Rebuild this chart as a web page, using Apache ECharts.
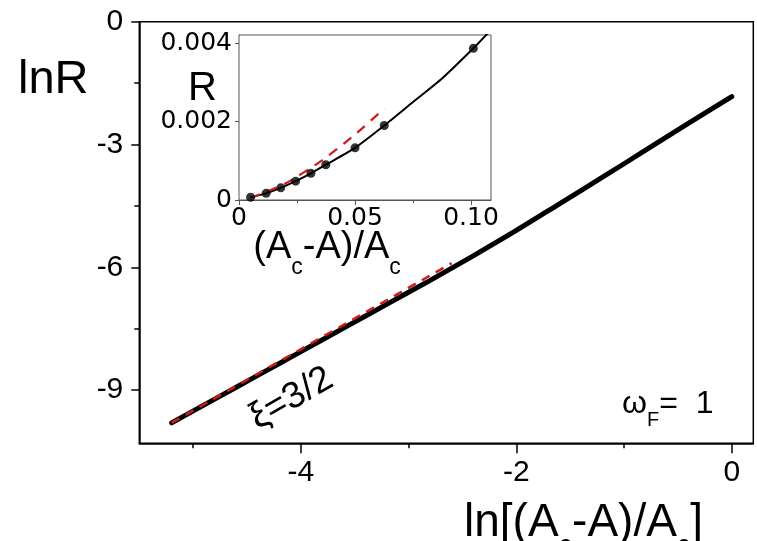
<!DOCTYPE html>
<html>
<head>
<meta charset="utf-8">
<script src="https://cdn.jsdelivr.net/npm/echarts@6/dist/echarts.min.js"></script>
<style>
html,body{margin:0;padding:0;background:#fff;}
#chart{width:757px;height:541px;}
</style>
</head>
<body>
<div id="chart"></div>
<script>
// ---- main plot data: ln[(Ac-A)/Ac] vs lnR ----
var mainX = [-5.2, -4.8, -4.4, -4.0, -3.6, -3.2, -2.8, -2.4, -2.0, -1.6, -1.2, -0.8, -0.4, 0.0];
var mainY = [-9.8, -9.22, -8.64, -8.06, -7.48, -6.9, -6.32, -5.72, -5.1, -4.45, -3.8, -3.14, -2.48, -1.83];
// red dashed power-law fit (slope 3/2)
var fitX = [-5.2, -2.6];
var fitY = [-9.8, -5.9];
var mainXMajor = [-4, -2, 0];
var mainXMinor = [-5, -3, -1];
var mainYMajor = [0, -3, -6, -9];
var mainYMinor = [-1.5, -4.5, -7.5];

// ---- inset data: (Ac-A)/Ac vs R ----
var insetPtsX = [0.005, 0.0117, 0.018, 0.0244, 0.031, 0.0374, 0.05, 0.0626, 0.101];
var insetPtsY = [0.00007, 0.00017, 0.00031, 0.00048, 0.00068, 0.0009, 0.00133, 0.0019, 0.00387];
var insetCurveX = [0.005, 0.0117, 0.018, 0.0244, 0.031, 0.0374, 0.05, 0.0626, 0.075, 0.0875, 0.101, 0.1086];
var insetCurveY = [0.00007, 0.00017, 0.00031, 0.00048, 0.00068, 0.0009, 0.00133, 0.0019, 0.0025, 0.0031, 0.00387, 0.00434];
var insetFitX = [0.005, 0.02, 0.035, 0.05, 0.0627];
var insetFitY = [0.00005, 0.00042, 0.00098, 0.00167, 0.00234];
var insetXMajor = [0, 0.05, 0.1];
var insetXMinor = [0.025, 0.075];
var insetYMajor = [0, 0.002, 0.004];
var insetYMinor = [0.001, 0.003];

function pairs(xs, ys) { return xs.map(function (x, i) { return [x, ys[i]]; }); }

var chart = echarts.init(document.getElementById('chart'), null, {renderer: 'canvas'});
var AR = 'Arial, "Liberation Sans", sans-serif';
var DV = '"DejaVu Sans", sans-serif';

function sub(F, S) {
  var P = 0.85 * F - 0.24 * S;
  return {
    m: {fontSize: F, lineHeight: F, fontFamily: AR, color: '#000', verticalAlign: 'top'},
    s: {fontSize: S, lineHeight: S, fontFamily: AR, color: '#000', verticalAlign: 'top', padding: [P, 0, 0, 0]}
  };
}

var option = {
  backgroundColor: '#fff',
  animation: false,
  grid: [
    {left: 139.3, right: 3.7, top: 21.7, bottom: 97.7, show: true, borderColor: '#000', borderWidth: 1.5, backgroundColor: 'transparent', z: 0},
    {left: 239, right: 266, top: 35, bottom: 341, show: true, borderColor: '#555', borderWidth: 1, backgroundColor: '#fff', z: 5}
  ],
  xAxis: [
    {gridIndex: 0, type: 'value', position: 'bottom', min: -5.5, max: 0.2,
     axisLine: {show: true, onZero: false, lineStyle: {color: '#000', width: 1.5}},
     axisTick: {show: true, length: 10, customValues: mainXMajor, lineStyle: {color: '#000', width: 1.5}},
     axisLabel: {show: true, customValues: mainXMajor, margin: 14, fontSize: 30, fontFamily: AR, color: '#000'},
     splitLine: {show: false}},
    {gridIndex: 0, type: 'value', position: 'bottom', min: -5.5, max: 0.2,
     axisLine: {show: false, onZero: false},
     axisTick: {show: true, length: 5, customValues: mainXMinor, lineStyle: {color: '#000', width: 1.5}},
     axisLabel: {show: false}, splitLine: {show: false}},
    {gridIndex: 1, type: 'value', position: 'bottom', min: 0, max: 0.1086,
     axisLine: {show: true, onZero: false, lineStyle: {color: '#555', width: 1}},
     axisTick: {show: true, length: 5, customValues: insetXMajor, lineStyle: {color: '#555', width: 1}},
     axisLabel: {show: true, customValues: insetXMajor, margin: 6, fontSize: 25, fontFamily: DV, color: '#000',
       formatter: function (v) { return v === 0 ? '0' : (Math.abs(v - 0.1) < 1e-9 ? '0.10' : '0.05'); }},
     splitLine: {show: false}},
    {gridIndex: 1, type: 'value', position: 'bottom', min: 0, max: 0.1086,
     axisLine: {show: false, onZero: false},
     axisTick: {show: true, length: 3, customValues: insetXMinor, lineStyle: {color: '#555', width: 1}},
     axisLabel: {show: false}, splitLine: {show: false}}
  ],
  yAxis: [
    {gridIndex: 0, type: 'value', position: 'left', min: -10.3, max: 0,
     axisLine: {show: true, onZero: false, lineStyle: {color: '#000', width: 1.5}},
     axisTick: {show: true, length: 8, customValues: mainYMajor, lineStyle: {color: '#000', width: 1.5}},
     axisLabel: {show: true, customValues: mainYMajor, margin: 16, fontSize: 30, fontFamily: AR, color: '#000'},
     splitLine: {show: false}},
    {gridIndex: 0, type: 'value', position: 'left', min: -10.3, max: 0,
     axisLine: {show: false, onZero: false},
     axisTick: {show: true, length: 5, customValues: mainYMinor, lineStyle: {color: '#000', width: 1.5}},
     axisLabel: {show: false}, splitLine: {show: false}},
    {gridIndex: 1, type: 'value', position: 'left', min: 0, max: 0.00421,
     axisLine: {show: true, onZero: false, lineStyle: {color: '#555', width: 1}},
     axisTick: {show: true, length: 4, customValues: insetYMajor, lineStyle: {color: '#555', width: 1}},
     axisLabel: {show: true, customValues: insetYMajor, margin: 7, fontSize: 25, fontFamily: DV, color: '#000',
       formatter: function (v) { return v === 0 ? '0' : v.toFixed(3); }},
     splitLine: {show: false}},
    {gridIndex: 1, type: 'value', position: 'left', min: 0, max: 0.00421,
     axisLine: {show: false, onZero: false},
     axisTick: {show: true, inside: true, length: 3, customValues: insetYMinor, lineStyle: {color: '#555', width: 1}},
     axisLabel: {show: false}, splitLine: {show: false}}
  ],
  series: [
    {type: 'line', xAxisIndex: 0, yAxisIndex: 0, data: pairs(mainX, mainY), smooth: 0.3, showSymbol: false,
     lineStyle: {color: '#000', width: 5, cap: 'round'}, z: 2},
    {type: 'line', xAxisIndex: 0, yAxisIndex: 0, data: pairs(fitX, fitY), showSymbol: false,
     lineStyle: {color: '#d21a1a', width: 2.5, type: [9, 7]}, z: 3},
    {type: 'line', xAxisIndex: 2, yAxisIndex: 2, data: pairs(insetCurveX, insetCurveY), smooth: 0.2, showSymbol: false,
     clip: true, lineStyle: {color: '#000', width: 2}, z: 6},
    {type: 'line', xAxisIndex: 2, yAxisIndex: 2, data: pairs(insetFitX, insetFitY), smooth: 0.2, showSymbol: false,
     lineStyle: {color: '#d21a1a', width: 2.2, type: [10, 8]}, z: 6},
    {type: 'scatter', xAxisIndex: 2, yAxisIndex: 2, data: pairs(insetPtsX, insetPtsY), symbol: 'circle', symbolSize: 9,
     itemStyle: {color: '#000'}, z: 7}
  ],
  graphic: [
    {type: 'text', x: 18, y: 57, z: 10, style: {text: 'lnR', fontSize: 47, fontFamily: AR, fill: '#000', align: 'left', verticalAlign: 'top'}},
    {type: 'text', x: 188, y: 69, z: 10, style: {text: 'R', fontSize: 40, fontFamily: AR, fill: '#000', align: 'left', verticalAlign: 'top'}},
    {type: 'text', x: 464, y: 500, z: 10, style: {text: '{m|ln[(A}{s|c}{m|-A)/A}{s|c}{m|]}', rich: sub(46, 27), align: 'left', verticalAlign: 'top'}},
    {type: 'text', x: 327, y: 229, z: 10, style: {text: '{m|(A}{s|c}{m|-A)/A}{s|c}', rich: sub(38, 23), align: 'center', verticalAlign: 'top'}},
    {type: 'text', x: 622, y: 388, z: 10, style: {text: '{m|\u03c9}{s|F}{m|=  1}', rich: sub(32, 20), align: 'left', verticalAlign: 'top'}},
    {type: 'text', x: 291.5, y: 398.5, rotation: 30 * Math.PI / 180, z: 10,
     style: {text: '\u03be=3/2', fontSize: 37, fontFamily: AR, fill: '#000', align: 'center', verticalAlign: 'middle'}}
  ]
};
chart.setOption(option);
</script>
</body>
</html>
